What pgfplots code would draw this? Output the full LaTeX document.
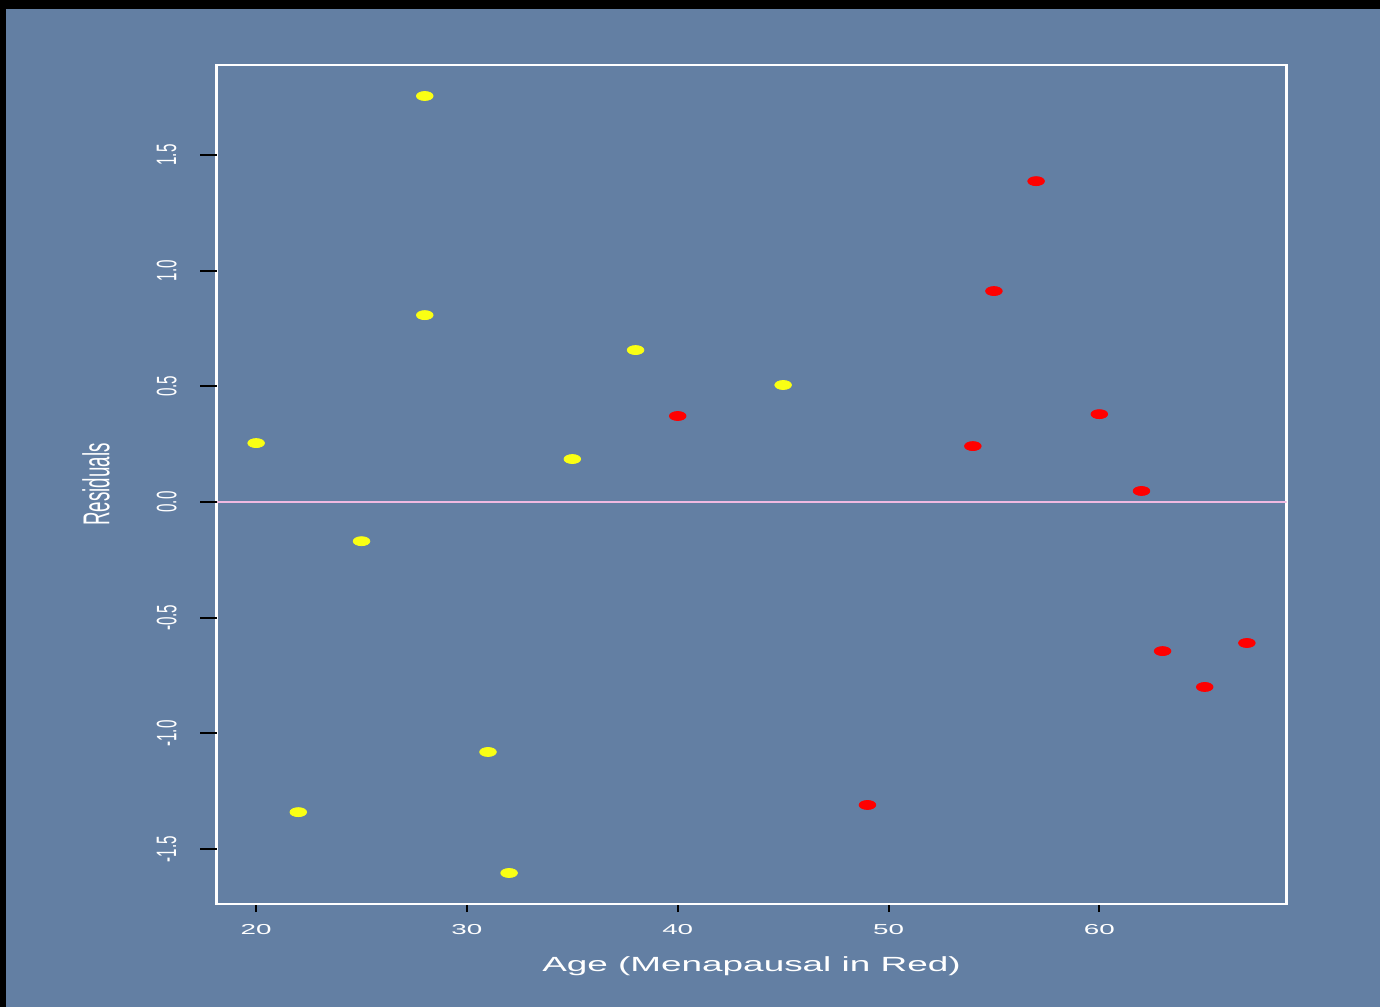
\documentclass[border=0pt]{standalone}
\usepackage{fontspec}
\setmainfont{Liberation Sans}
\usepackage{graphicx}
\usepackage{pgfplots}
\pgfplotsset{compat=1.18}
\definecolor{bgblue}{RGB}{99,127,163}
\definecolor{ptyellow}{RGB}{250,255,20}
\definecolor{ptred}{RGB}{255,0,0}
\definecolor{zeropink}{RGB}{240,185,225}
\newcommand{\xt}[1]{\scalebox{1.93}[1]{#1}}
\newcommand{\ys}[1]{\scalebox{1}[1.85]{#1}}
\begin{document}
\begin{tikzpicture}
\fill[bgblue] (0,0) rectangle (690pt,503.5pt);
\fill[black] (0,499pt) rectangle (690pt,503.5pt);
\fill[black] (0,0) rectangle (3pt,503.5pt);
\pgfplotsset{myax/.style={at={(108.25pt,51.5pt)}, anchor=south west, scale only axis,
  width=535pt, height=419.5pt, xmin=18.12, xmax=68.88, ymin=-1.737, ymax=1.889,
  tick align=outside, tick style={black, line width=1pt}, tick label style={text=white}}}
\begin{axis}[myax,
  xtick={20,30,40,50,60},
  xticklabels={\xt{20},\xt{30},\xt{40},\xt{50},\xt{60}},
  xtick pos=left, ytick=\empty, major tick length=4pt,
  xticklabel style={font=\fontsize{7.2}{8}\selectfont, anchor=center},
  xticklabel shift=9pt,
  axis line style={white, line width=1.4pt},
  xlabel={\scalebox{1.8}[1]{Age (Menapausal in Red)}},
  xlabel style={font=\fontsize{10.25}{12}\selectfont, text=white, at={(axis description cs:0.5,-0.0799)}, anchor=base}]
\addplot[zeropink, line width=1pt, forget plot] coordinates {(18.12,0) (68.88,0)};
\addplot[only marks, mark=*, color=ptyellow, mark size=2.25pt, mark options={xscale=1.85}] coordinates {
(20,0.255) (22,-1.340) (25,-0.169) (28,1.755) (28,0.808)
(31,-1.080) (32,-1.603) (35,0.186) (38,0.657) (45,0.506)};
\addplot[only marks, mark=*, color=ptred, mark size=2.25pt, mark options={xscale=1.85}] coordinates {
(40,0.372) (49,-1.309) (54,0.242) (55,0.912) (57,1.387)
(60,0.380) (62,0.048) (63,-0.644) (65,-0.799) (67,-0.609)};
\end{axis}
\begin{axis}[myax,
  xtick=\empty,
  ytick={-1.5,-1,-0.5,0,0.5,1,1.5},
  yticklabels={\ys{-1.5},\ys{-1.0},\ys{-0.5},\ys{0.0},\ys{0.5},\ys{1.0},\ys{1.5}},
  ytick pos=left, major tick length=8pt,
  yticklabel style={font=\fontsize{7.6}{8}\selectfont, rotate=90, anchor=center},
  yticklabel shift=16.9pt,
  axis line style={draw=none},
  ylabel={\scalebox{1}[2]{Residuals}},
  ylabel style={font=\fontsize{9.35}{11}\selectfont, text=white, at={(axis description cs:-0.1126,0.5)}, anchor=center}]
\end{axis}
\end{tikzpicture}
\end{document}
